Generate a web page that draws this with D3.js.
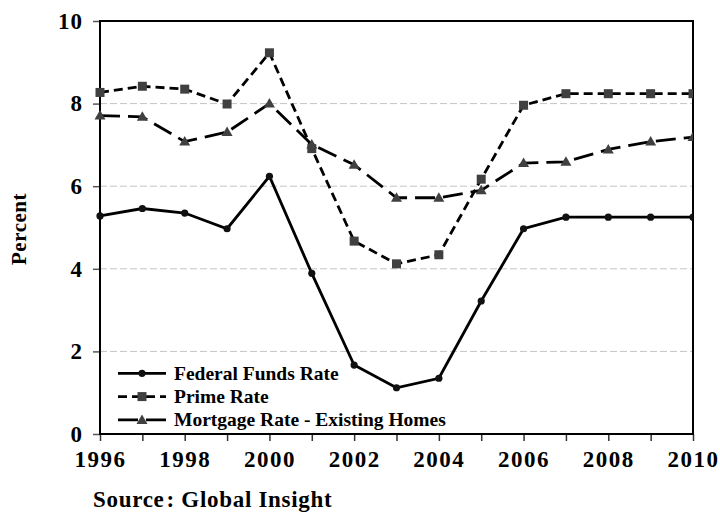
<!DOCTYPE html>
<html>
<head>
<meta charset="utf-8">
<script src="https://cdn.jsdelivr.net/npm/d3@7"></script>
<style>
  body { margin: 0; background: #fff; }
  svg { display: block; font-family: 'Liberation Serif', 'Times New Roman', serif; font-weight: bold; }
</style>
</head>
<body>
<div id="chart"></div>
<script>
// Data
const years = [1996, 1997, 1998, 1999, 2000, 2001, 2002, 2003, 2004, 2005, 2006, 2007, 2008, 2009, 2010];
const fedFunds = [5.28, 5.46, 5.35, 4.97, 6.24, 3.89, 1.67, 1.12, 1.35, 3.22, 4.97, 5.25, 5.25, 5.25, 5.25];
const primeRate = [8.27, 8.42, 8.35, 7.99, 9.23, 6.91, 4.67, 4.12, 4.34, 6.17, 7.96, 8.24, 8.24, 8.24, 8.24];
const mortgageRate = [7.71, 7.68, 7.08, 7.31, 8.0, 7.01, 6.52, 5.72, 5.72, 5.9, 6.56, 6.59, 6.89, 7.08, 7.19];
const yTicks = [0, 2, 4, 6, 8, 10];
const xTickLabels = [1996, 1998, 2000, 2002, 2004, 2006, 2008, 2010];

const seriesList = [
    { name: 'Federal Funds Rate', values: fedFunds, dash: null, marker: 'circle' },
    { name: 'Prime Rate', values: primeRate, dash: '9,5', marker: 'square' },
    { name: 'Mortgage Rate - Existing Homes', values: mortgageRate, dash: '20,8', marker: 'triangle' }
];

const width = 720, height = 512;
const margin = { top: 21, right: 27, bottom: 78, left: 100 };
const innerW = width - margin.left - margin.right;
const innerH = height - margin.top - margin.bottom;

const svg = d3.select('#chart').append('svg')
    .attr('width', width)
    .attr('height', height);

const g = svg.append('g')
    .attr('transform', `translate(${margin.left},${margin.top})`);

const x = d3.scaleLinear().domain([1996, 2010]).range([0, innerW]);
const y = d3.scaleLinear().domain([0, 10]).range([innerH, 0]);

// Gridlines
g.selectAll('.grid')
    .data(yTicks.filter(d => d > 0 && d < 10))
    .enter().append('line')
    .attr('x1', 0).attr('x2', innerW)
    .attr('y1', d => y(d)).attr('y2', d => y(d))
    .attr('stroke', '#c4c4c4')
    .attr('stroke-width', 1)
    .attr('stroke-dasharray', '7,3');

// Y axis
const yAxis = g.append('g')
    .call(d3.axisLeft(y).tickValues(yTicks).tickSize(7).tickPadding(10).tickFormat(d3.format('d')));
yAxis.select('.domain').remove();
yAxis.selectAll('line').attr('stroke', '#555').attr('stroke-width', 1.5);
yAxis.selectAll('text')
    .style('font-family', 'Liberation Serif, serif')
    .style('font-weight', 'bold')
    .style('font-size', '23px')
    .attr('letter-spacing', '1px')
    .attr('fill', '#000');

// X axis
const xAxis = g.append('g')
    .attr('transform', `translate(0,${innerH})`)
    .call(d3.axisBottom(x).tickValues(years).tickSize(7).tickPadding(10)
        .tickFormat(d => xTickLabels.includes(d) ? d : ''));
xAxis.select('.domain').remove();
xAxis.selectAll('line').attr('stroke', '#333').attr('stroke-width', 1.5);
xAxis.selectAll('text')
    .style('font-family', 'Liberation Serif, serif')
    .style('font-weight', 'bold')
    .style('font-size', '23px')
    .attr('letter-spacing', '1.5px')
    .attr('fill', '#000');

// Plot frame
g.append('rect')
    .attr('x', 0).attr('y', 0)
    .attr('width', innerW).attr('height', innerH)
    .attr('fill', 'none')
    .attr('stroke', '#000')
    .attr('stroke-width', 2);

// Marker drawing helper
function drawMarker(sel, type, cx, cy) {
    if (type === 'circle') {
        sel.append('circle').attr('cx', cx).attr('cy', cy).attr('r', 3.6).attr('fill', '#111');
    } else if (type === 'square') {
        sel.append('rect').attr('x', cx - 4.5).attr('y', cy - 4.5)
            .attr('width', 9).attr('height', 9).attr('fill', '#404040');
    } else {
        sel.append('path')
            .attr('d', `M${cx},${cy - 5.5}L${cx + 5.5},${cy + 4}L${cx - 5.5},${cy + 4}Z`)
            .attr('fill', '#404040');
    }
}

const line = d3.line()
    .x((d, i) => x(years[i]))
    .y(d => y(d));

svg.append('defs').append('clipPath').attr('id', 'plotClip')
    .append('rect').attr('x', -6).attr('y', -6).attr('width', innerW + 6).attr('height', innerH + 12);

seriesList.forEach(s => {
    const sg = g.append('g').attr('clip-path', 'url(#plotClip)');
    sg.append('path')
        .datum(s.values)
        .attr('d', line)
        .attr('fill', 'none')
        .attr('stroke', '#000')
        .attr('stroke-width', 2.8)
        .attr('stroke-dasharray', s.dash);
    s.values.forEach((v, i) => drawMarker(sg, s.marker, x(years[i]), y(v)));
});

// Legend
const legend = g.append('g').attr('transform', `translate(18, ${y(1.47)})`);
seriesList.forEach((s, i) => {
    const row = legend.append('g').attr('transform', `translate(0, ${i * 23.3})`);
    row.append('line')
        .attr('x1', 0).attr('x2', 48)
        .attr('y1', 0).attr('y2', 0)
        .attr('stroke', '#000')
        .attr('stroke-width', 2.8)
        .attr('stroke-dasharray', s.dash);
    drawMarker(row, s.marker, 24, 0);
    row.append('text')
        .attr('x', 56)
        .attr('y', 6.5)
        .style('font-size', '19.5px')
        .text(s.name);
});

// Y axis title
svg.append('text')
    .attr('transform', 'translate(26, 229) rotate(-90)')
    .attr('text-anchor', 'middle')
    .style('font-size', '21px')
    .attr('letter-spacing', '0.5px')
    .text('Percent');

// Source note
const source = svg.append('text')
    .attr('x', 93)
    .attr('y', 507)
    .style('font-size', '23px')
    .attr('letter-spacing', '0.7px');
source.append('tspan').text('Source');
source.append('tspan').attr('dx', 2).text(': Global Insight');
</script>
</body>
</html>
